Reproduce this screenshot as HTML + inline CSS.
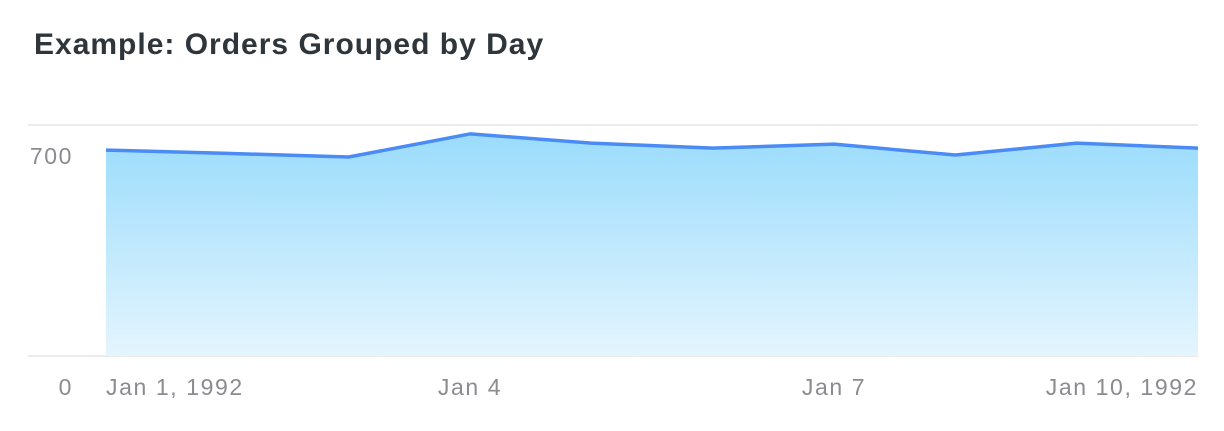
<!DOCTYPE html>
<html><head><meta charset="utf-8"><style>
body{margin:0;background:#fff;font-family:"Liberation Sans",sans-serif;}
svg text{font-family:"Liberation Sans",sans-serif;}
</style></head><body>
<svg width="1224" height="426">
<defs><linearGradient id="g" x1="0" y1="0" x2="0" y2="1">
<stop offset="0" stop-color="#9adcfc"/><stop offset="1" stop-color="#e4f5fe"/></linearGradient></defs>
<text x="34" y="54" font-size="30" font-weight="bold" letter-spacing="1" fill="#2e353b">Example: Orders Grouped by Day</text>
<line x1="28" x2="1198" y1="125" y2="125" stroke="#ebebeb" stroke-width="2"/>
<line x1="28" x2="1198" y1="356" y2="356" stroke="#ebebeb" stroke-width="2"/>
<g id="marks"></g>
<g id="labels" font-size="23" fill="#8b8b90" letter-spacing="1.6"></g>
</svg>
<script>
const categories=["Jan 1","Jan 2","Jan 3","Jan 4","Jan 5","Jan 6","Jan 7","Jan 8","Jan 9","Jan 10"];
const values=[624,614,603,673,645,630,642,609,645,630];
const yTicks=[0,700];
const xTickIdx=[0,3,6,9];
const xTickLabels=["Jan 1, 1992","Jan 4","Jan 7","Jan 10, 1992"];
const x=i=>106+i*(1198-106)/(categories.length-1);
const y=v=>356-v*(231/700);
const ns="http://www.w3.org/2000/svg";
const marks=document.getElementById('marks'),labels=document.getElementById('labels');
let pts=values.map((v,i)=>x(i)+','+y(v));
const area=document.createElementNS(ns,'polygon');
area.setAttribute('points',x(0)+',356 '+pts.join(' ')+' '+x(values.length-1)+',356');
area.setAttribute('fill','url(#g)');


marks.appendChild(area);
const line=document.createElementNS(ns,'polyline');
line.setAttribute('points',pts.join(' '));
line.setAttribute('fill','none');line.setAttribute('stroke','#4a8bf6');line.setAttribute('stroke-width','3.5');line.setAttribute('stroke-linejoin','round');


marks.appendChild(line);
yTicks.forEach(t=>{const e=document.createElementNS(ns,'text');
e.setAttribute('x',73);e.setAttribute('y',y(t)+39);e.setAttribute('text-anchor','end');e.textContent=t;


labels.appendChild(e);});
xTickIdx.forEach((ix,k)=>{const e=document.createElementNS(ns,'text');
const anchor=k==0?'start':(k==xTickIdx.length-1?'end':'middle');
e.setAttribute('x',x(ix));e.setAttribute('y',395);e.setAttribute('text-anchor',anchor);e.textContent=xTickLabels[k];


labels.appendChild(e);});
</script>
</body></html>
